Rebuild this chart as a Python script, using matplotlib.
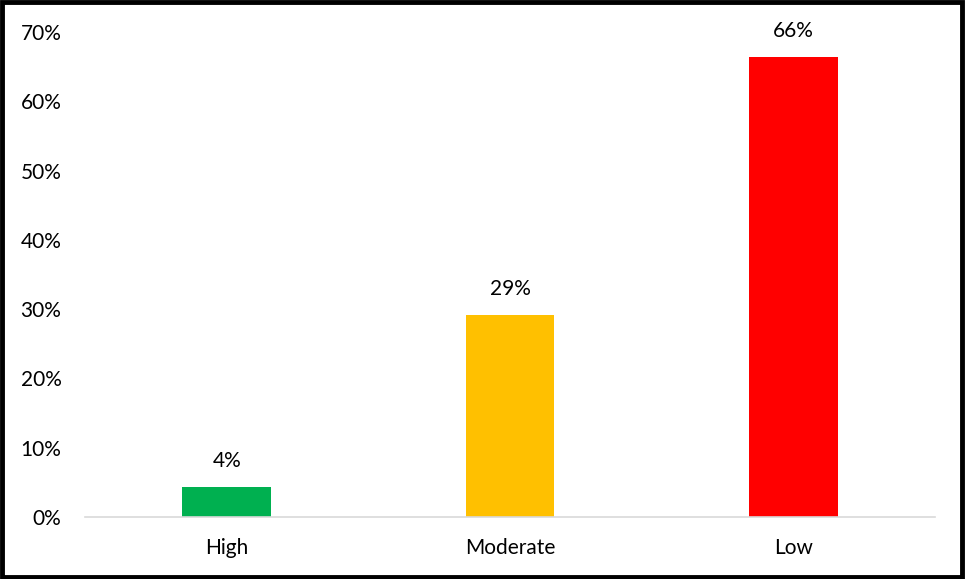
import matplotlib
matplotlib.use("Agg")
import matplotlib.pyplot as plt
from matplotlib.patches import Rectangle
from matplotlib.ticker import FuncFormatter

categories = ["High", "Moderate", "Low"]
values = [4.3, 29.1, 66.4]
labels = ["4%", "29%", "66%"]
colors = ["#00B050", "#FFC000", "#FF0000"]

plt.rcParams['font.family'] = ['Lato', 'DejaVu Sans']

fig = plt.figure(figsize=(9.66, 5.79), dpi=100)
ax = fig.add_axes([85/966, 1-517/579, 850/966, 485/579])

x = range(len(categories))
bars = ax.bar(x, values, width=0.314, color=colors, zorder=2)
for xi, v, lab in zip(x, values, labels):
    ax.text(xi, v + 2.3, lab, ha='center', va='bottom', fontsize=15, color='#000000')

ax.set_xlim(-0.5, 2.5)
ax.set_ylim(0, 70)
ax.set_yticks(range(0, 71, 10))
ax.yaxis.set_major_formatter(FuncFormatter(lambda v, p: f"{int(v)}%"))
ax.set_xticks(list(x))
ax.set_xticklabels(categories)
ax.tick_params(axis='both', length=0, labelsize=15, colors='#000000')
ax.tick_params(axis='y', pad=17)
ax.tick_params(axis='x', pad=15)
for s in ['top', 'right', 'left']:
    ax.spines[s].set_visible(False)
ax.spines['bottom'].set_color('#D9D9D9')
ax.spines['bottom'].set_linewidth(1.2)

fig.patches.append(Rectangle((0.002, 0.003), 0.994, 0.993, transform=fig.transFigure,
                             fill=False, edgecolor='black', linewidth=3.5, zorder=10))

fig.savefig("out.png", dpi=100)
